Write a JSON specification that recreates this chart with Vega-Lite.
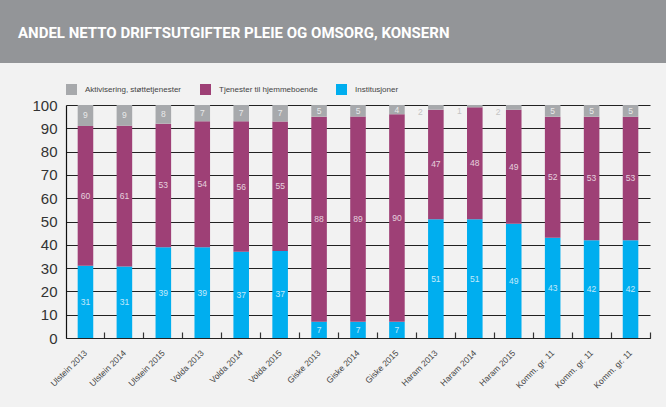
{
  "$schema": "https://vega.github.io/schema/vega-lite/v6.json",
  "background": "#f2f2f2",
  "padding": {"left": 0, "top": 0, "right": 0, "bottom": 24},
  "spacing": 21,
  "columns": 1,
  "resolve": {"scale": {"color": "independent"}, "legend": {"color": "independent"}},
  "config": {"view": {"stroke": null}, "font": "Liberation Sans"},
  "concat": [
    {
      "width": 666,
      "height": 63,
      "view": {"fill": "#939598", "stroke": null},
      "title": {
        "text": "ANDEL NETTO DRIFTSUTGIFTER PLEIE OG OMSORG, KONSERN",
        "anchor": "start",
        "frame": "group",
        "orient": "top",
        "offset": -53,
        "dx": 18,
        "baseline": "alphabetic",
        "font": "Roboto",
        "fontSize": 15,
        "fontWeight": "bold",
        "color": "#ffffff"
      },
      "data": {"values": []},
      "mark": "rect",
      "encoding": {}
    },
    {
      "width": 650,
      "height": 233,
      "data": {
        "values": [
          {"enhet": "Ulstein 2013", "kategori": "Institusjoner", "andel": 31, "rekke": 1},
          {"enhet": "Ulstein 2013", "kategori": "Tjenester til hjemmeboende", "andel": 60, "rekke": 2},
          {"enhet": "Ulstein 2013", "kategori": "Aktivisering, støttetjenester", "andel": 9, "rekke": 3},
          {"enhet": "Ulstein 2014", "kategori": "Institusjoner", "andel": 31, "rekke": 1},
          {"enhet": "Ulstein 2014", "kategori": "Tjenester til hjemmeboende", "andel": 61, "rekke": 2},
          {"enhet": "Ulstein 2014", "kategori": "Aktivisering, støttetjenester", "andel": 9, "rekke": 3},
          {"enhet": "Ulstein 2015", "kategori": "Institusjoner", "andel": 39, "rekke": 1},
          {"enhet": "Ulstein 2015", "kategori": "Tjenester til hjemmeboende", "andel": 53, "rekke": 2},
          {"enhet": "Ulstein 2015", "kategori": "Aktivisering, støttetjenester", "andel": 8, "rekke": 3},
          {"enhet": "Volda 2013", "kategori": "Institusjoner", "andel": 39, "rekke": 1},
          {"enhet": "Volda 2013", "kategori": "Tjenester til hjemmeboende", "andel": 54, "rekke": 2},
          {"enhet": "Volda 2013", "kategori": "Aktivisering, støttetjenester", "andel": 7, "rekke": 3},
          {"enhet": "Volda 2014", "kategori": "Institusjoner", "andel": 37, "rekke": 1},
          {"enhet": "Volda 2014", "kategori": "Tjenester til hjemmeboende", "andel": 56, "rekke": 2},
          {"enhet": "Volda 2014", "kategori": "Aktivisering, støttetjenester", "andel": 7, "rekke": 3},
          {"enhet": "Volda 2015", "kategori": "Institusjoner", "andel": 37, "rekke": 1},
          {"enhet": "Volda 2015", "kategori": "Tjenester til hjemmeboende", "andel": 55, "rekke": 2},
          {"enhet": "Volda 2015", "kategori": "Aktivisering, støttetjenester", "andel": 7, "rekke": 3},
          {"enhet": "Giske 2013", "kategori": "Institusjoner", "andel": 7, "rekke": 1},
          {"enhet": "Giske 2013", "kategori": "Tjenester til hjemmeboende", "andel": 88, "rekke": 2},
          {"enhet": "Giske 2013", "kategori": "Aktivisering, støttetjenester", "andel": 5, "rekke": 3},
          {"enhet": "Giske 2014", "kategori": "Institusjoner", "andel": 7, "rekke": 1},
          {"enhet": "Giske 2014", "kategori": "Tjenester til hjemmeboende", "andel": 89, "rekke": 2},
          {"enhet": "Giske 2014", "kategori": "Aktivisering, støttetjenester", "andel": 5, "rekke": 3},
          {"enhet": "Giske 2015", "kategori": "Institusjoner", "andel": 7, "rekke": 1},
          {"enhet": "Giske 2015", "kategori": "Tjenester til hjemmeboende", "andel": 90, "rekke": 2},
          {"enhet": "Giske 2015", "kategori": "Aktivisering, støttetjenester", "andel": 4, "rekke": 3},
          {"enhet": "Haram 2013", "kategori": "Institusjoner", "andel": 51, "rekke": 1},
          {"enhet": "Haram 2013", "kategori": "Tjenester til hjemmeboende", "andel": 47, "rekke": 2},
          {"enhet": "Haram 2013", "kategori": "Aktivisering, støttetjenester", "andel": 2, "rekke": 3},
          {"enhet": "Haram 2014", "kategori": "Institusjoner", "andel": 51, "rekke": 1},
          {"enhet": "Haram 2014", "kategori": "Tjenester til hjemmeboende", "andel": 48, "rekke": 2},
          {"enhet": "Haram 2014", "kategori": "Aktivisering, støttetjenester", "andel": 1, "rekke": 3},
          {"enhet": "Haram 2015", "kategori": "Institusjoner", "andel": 49, "rekke": 1},
          {"enhet": "Haram 2015", "kategori": "Tjenester til hjemmeboende", "andel": 49, "rekke": 2},
          {"enhet": "Haram 2015", "kategori": "Aktivisering, støttetjenester", "andel": 2, "rekke": 3},
          {"enhet": "Komm. gr. 11|2013", "kategori": "Institusjoner", "andel": 43, "rekke": 1},
          {"enhet": "Komm. gr. 11|2013", "kategori": "Tjenester til hjemmeboende", "andel": 52, "rekke": 2},
          {"enhet": "Komm. gr. 11|2013", "kategori": "Aktivisering, støttetjenester", "andel": 5, "rekke": 3},
          {"enhet": "Komm. gr. 11|2014", "kategori": "Institusjoner", "andel": 42, "rekke": 1},
          {"enhet": "Komm. gr. 11|2014", "kategori": "Tjenester til hjemmeboende", "andel": 53, "rekke": 2},
          {"enhet": "Komm. gr. 11|2014", "kategori": "Aktivisering, støttetjenester", "andel": 5, "rekke": 3},
          {"enhet": "Komm. gr. 11|2015", "kategori": "Institusjoner", "andel": 42, "rekke": 1},
          {"enhet": "Komm. gr. 11|2015", "kategori": "Tjenester til hjemmeboende", "andel": 53, "rekke": 2},
          {"enhet": "Komm. gr. 11|2015", "kategori": "Aktivisering, støttetjenester", "andel": 5, "rekke": 3}
        ]
      },
      "encoding": {
        "x": {
          "field": "enhet",
          "type": "nominal",
          "sort": null,
          "scale": {"range": [66, 650], "paddingInner": 0.6, "paddingOuter": 0.3},
          "axis": {
            "title": null,
            "grid": false,
            "labelAngle": -45,
            "labelAlign": "right",
            "labelBaseline": "middle",
            "labelFont": "Liberation Sans",
            "labelFontSize": 8.5,
            "labelColor": "#444444",
            "labelPadding": 19,
            "labelExpr": "split(datum.label, '|')[0]",
            "tickSize": -6,
            "tickColor": "#333333",
            "tickWidth": 1.2,
            "bandPosition": 1.75,
            "domainColor": "#111111",
            "domainWidth": 1.2
          }
        },
        "y": {
          "field": "andel",
          "type": "quantitative",
          "stack": "normalize",
          "scale": {"domain": [0, 1], "nice": false},
          "axis": {
            "title": null,
            "values": [0, 0.1, 0.2, 0.3, 0.4, 0.5, 0.6, 0.7, 0.8, 0.9, 1],
            "labelExpr": "format(round(datum.value * 100), 'd')",
            "grid": false,
            "ticks": true,
            "tickSize": -584,
            "tickColor": "#222222",
            "tickWidth": 1,
            "labelPadding": 593,
            "offset": -66,
            "labelFont": "Liberation Sans",
            "labelFontSize": 15,
            "labelColor": "#333333",
            "domainColor": "#111111",
            "domainWidth": 1.2
          }
        },
        "order": {"field": "rekke", "type": "quantitative"}
      },
      "layer": [
        {
          "mark": {"type": "bar"},
          "encoding": {
            "color": {
              "field": "kategori",
              "type": "nominal",
              "scale": {
                "domain": ["Aktivisering, støttetjenester", "Tjenester til hjemmeboende", "Institusjoner"],
                "range": ["#a7a9ac", "#9e4076", "#00aeef"]
              },
              "legend": {
                "orient": "none",
                "legendX": 66,
                "legendY": -21,
                "direction": "horizontal",
                "title": null,
                "symbolType": "square",
                "symbolSize": 121,
                "symbolStrokeWidth": 0,
                "symbolOpacity": 1,
                "labelFont": "Liberation Sans",
                "labelFontSize": 8,
                "labelColor": "#444444",
                "labelOffset": 8,
                "columnPadding": 18,
                "padding": 0
              }
            }
          }
        },
        {
          "mark": {"type": "text", "font": "Liberation Sans", "fontSize": 8.5, "color": "#ffffff", "opacity": 0.75, "baseline": "middle"},
          "encoding": {
            "y": {"field": "andel", "type": "quantitative", "stack": "normalize", "bandPosition": 0.5},
            "detail": {"field": "kategori"},
            "text": {"condition": {"test": "datum.andel >= 3", "field": "andel"}, "value": ""}
          }
        },
        {
          "mark": {"type": "text", "font": "Liberation Sans", "fontSize": 8.5, "color": "#c4c4c4", "baseline": "middle", "dx": -15.5, "dy": 5},
          "encoding": {
            "y": {"field": "andel", "type": "quantitative", "stack": "normalize", "bandPosition": 0.5},
            "detail": {"field": "kategori"},
            "text": {"condition": {"test": "datum.andel < 3", "field": "andel"}, "value": ""}
          }
        }
      ]
    }
  ]
}
